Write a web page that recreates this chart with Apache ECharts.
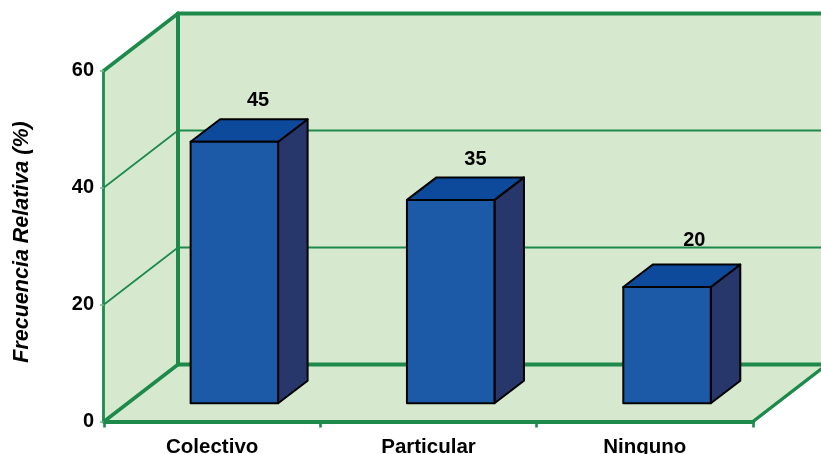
<!DOCTYPE html>
<html><head><meta charset="utf-8">
<style>html,body{margin:0;padding:0;background:#fff}#c{width:821px;height:454px}</style>
<script src="https://cdn.jsdelivr.net/npm/echarts@6/dist/echarts.min.js"></script>
</head><body><div id="c"></div>
<script>
const categories = ['Colectivo', 'Particular', 'Ninguno'];
const values = [45, 35, 20];
const yTicks = [0, 20, 40, 60];

// projection constants (px)
const DEPTH = [74, -57];            // floor depth of the 3D box
const BAR_SHIFT = [22.2, -18.3];    // bar front face, relative to front plane
const BAR_DEPTH = [29.5, -22.5];    // bar thickness
const BAR_WIDTH = 87.5;
const BAR_SCALE = 0.993;            // perspective shrink at bar depth
const LABEL_SHIFT = [[9, -18.5], [10, -18], [12.5, -24.5]];

const GREEN = '#1d8a4b', WALL = '#d6e9cf';
const FONT = 'Liberation Sans, Arial, sans-serif';

function line(x1, y1, x2, y2, w) {
  return { type: 'line', shape: { x1, y1, x2, y2 }, style: { stroke: GREEN, lineWidth: w, lineCap: 'round' } };
}
function poly(points, fill, stroke) {
  return { type: 'polygon', shape: { points }, style: { fill, stroke: stroke || null, lineWidth: stroke ? 2 : 0, lineJoin: 'round' } };
}

function renderWalls(params, api) {
  const g = params.coordSys, L = g.x, R = g.x + g.width, T = g.y, B = g.y + g.height;
  const dx = DEPTH[0], dy = DEPTH[1];
  const kids = [
    poly([[L, T], [L + dx, T + dy], [L + dx, B + dy], [L, B]], WALL),
    poly([[L + dx, T + dy], [R + dx, T + dy], [R + dx, B + dy], [L + dx, B + dy]], WALL),
    poly([[L, B], [L + dx, B + dy], [R + dx, B + dy], [R, B]], WALL)
  ];
  yTicks.forEach(t => {
    const y = api.coord([0, t])[1];
    const edge = t === 0 || t === 60;
    kids.push(line(L, y, L + dx, y + dy, edge ? 3.6 : 1.7));
    kids.push(line(L + dx, y + dy, R + dx, y + dy, edge ? 3.8 : 2));
  });
  kids.push(line(L + dx, T + dy, L + dx, B + dy, 4));
  kids.push(line(R, B, R + dx, B + dy, 3.4));
  kids.push(line(L - 0.5, T, L - 0.5, B, 2.8));
  return { type: 'group', children: kids };
}

function renderBar(params, api) {
  const i = api.value(0), v = api.value(1);
  const p = api.coord([i, v]), o = api.coord([i, 0]);
  const x0 = p[0] + BAR_SHIFT[0] - BAR_WIDTH / 2, x1 = x0 + BAR_WIDTH;
  const yB = o[1] + BAR_SHIFT[1], yT = yB - (o[1] - p[1]) * BAR_SCALE;
  const dx = BAR_DEPTH[0], dy = BAR_DEPTH[1];
  const s = '#000';
  const lab = LABEL_SHIFT[i];
  return { type: 'group', children: [
    poly([[x1, yT], [x1 + dx, yT + dy], [x1 + dx, yB + dy], [x1, yB]], '#27376b', s),
    poly([[x0, yT], [x0 + dx, yT + dy], [x1 + dx, yT + dy], [x1, yT]], '#0d4a9c', s),
    poly([[x0, yT], [x1, yT], [x1, yB], [x0, yB]], '#1c5aa8', s),
    { type: 'text', style: {
        text: String(v), x: (x0 + x1 + dx) / 2 + lab[0], y: yT + dy + lab[1],
        fill: '#000', font: 'bold 20px ' + FONT, align: 'center', verticalAlign: 'middle' } }
  ]};
}

const chart = echarts.init(document.getElementById('c'), null, { renderer: 'canvas' });
chart.setOption({
  animation: false,
  backgroundColor: '#fff',
  grid: { left: 104, right: 68, top: 70.5, bottom: 32.5, outerBoundsMode: 'none' },
  xAxis: {
    type: 'category', data: categories, z: 5,
    axisLine: { lineStyle: { color: GREEN, width: 3.8 } },
    axisTick: { show: true, alignWithLabel: false, length: 6, lineStyle: { color: GREEN, width: 2.6 } },
    axisLabel: { color: '#000', fontFamily: FONT, fontWeight: 'bold', fontSize: 20.5, margin: 15, interval: 0 }
  },
  yAxis: {
    type: 'value', min: 0, max: 60, interval: 20, z: 5,
    name: 'Frecuencia Relativa (%)', nameLocation: 'middle', nameGap: 71, nameRotate: 90,
    nameTextStyle: { color: '#000', fontFamily: FONT, fontWeight: 'bold', fontStyle: 'italic', fontSize: 21.5, padding: [0, 0, 0, 8] },
    axisLine: { show: false },
    axisTick: { show: true, length: 4, lineStyle: { color: '#6fb48a', width: 1.5 } },
    axisLabel: { color: '#000', fontFamily: FONT, fontWeight: 'bold', fontSize: 20, margin: 10 },
    splitLine: { show: false }
  },
  series: [
    { type: 'custom', name: 'walls', coordinateSystem: 'cartesian2d', clip: false, z: 1, silent: true,
      data: [[0, 0]], renderItem: renderWalls },
    { type: 'custom', name: 'Frecuencia', coordinateSystem: 'cartesian2d', clip: false, z: 10,
      encode: { x: 0, y: 1 },
      data: values.map((v, i) => [i, v]), renderItem: renderBar }
  ]
});
</script></body></html>
